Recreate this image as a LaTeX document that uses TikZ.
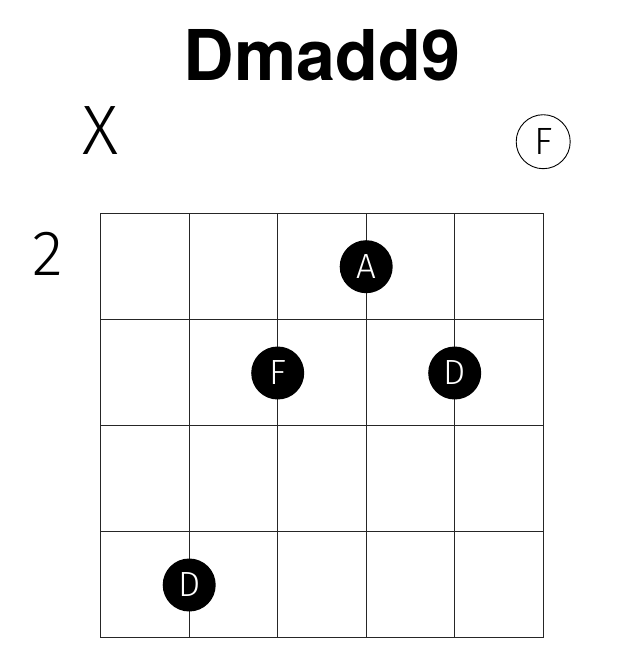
\documentclass[tikz,border=0pt]{standalone}
\usepackage{fontspec}
\setmainfont{TeX Gyre Heros}
\newfontfamily\lightfont{Fira Sans Light}
\begin{document}
\begin{tikzpicture}[x=1pt,y=-1pt,
  gridline/.style={line width=1.1pt,draw=black!85},
  fingerdot/.style={circle,fill=black,minimum size=53pt,inner sep=0pt,text=white,font=\lightfont\fontsize{35}{35}\selectfont},
  opendot/.style={circle,draw=black,line width=0.9pt,minimum size=54pt,inner sep=0pt,font=\lightfont\fontsize{38}{38}\selectfont},
  marklabel/.style={inner sep=0pt,anchor=base,font=\lightfont\fontsize{70}{70}\selectfont},
  fretlabel/.style={inner sep=0pt,anchor=base,font=\lightfont\fontsize{64}{64}\selectfont},
  titlelabel/.style={inner sep=0pt,anchor=base,font=\bfseries\fontsize{70}{70}\selectfont}]
\useasboundingbox (0,0) rectangle (644,656);
% strings
\foreach \i/\x in {1/100.7,2/189.2,3/277.7,4/366.2,5/454.7,6/543.2}{
  \coordinate (st\i) at (\x,213.3);
  \coordinate (sb\i) at (\x,637.7);
  \draw[gridline] (st\i) -- (sb\i);
}
% frets
\foreach \j/\y in {0/213.3,1/319.4,2/425.5,3/531.6,4/637.7}{
  \coordinate (fl\j) at (100.7,\y);
  \coordinate (fr\j) at (543.2,\y);
  \draw[gridline] (fl\j) -- (fr\j);
}
\node[titlelabel] (title) at (322,80) {Dmadd9};
\node[marklabel] (mute) at (100.7,154) {X};
\node[opendot] (open6) at (543.2,141.7) {F};
\node[fretlabel] (fret) at (48,275.5) {2};
\node[fingerdot] (d4) at (366.2,266.7) {A};
\node[fingerdot] (d3) at (277.7,373) {F};
\node[fingerdot] (d5) at (454.7,373) {D};
\node[fingerdot] (d2) at (189.2,585) {D};
\end{tikzpicture}
\end{document}
